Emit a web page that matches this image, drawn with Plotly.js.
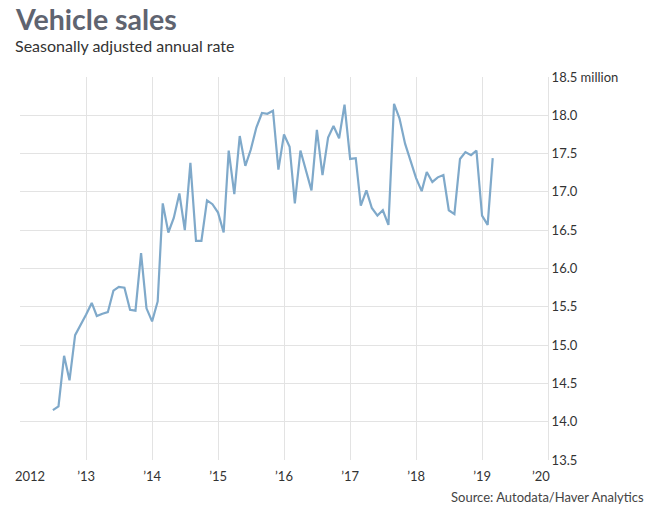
<!DOCTYPE html>
<html>
<head>
<meta charset="utf-8">
<script src="https://cdn.plot.ly/plotly-3.0.1.min.js"></script>
<style>
  html, body { margin: 0; padding: 0; background: #fff; }
  #chart { width: 656px; height: 517px; }
</style>
</head>
<body>
<div id="chart"></div>
<script>
// monthly SAAR, millions (Jul 2012 .. Mar 2019)
const startMonth = [2012, 7]
const sales2012 = [14.15, 14.20, 14.86, 14.54, 15.13, 15.26]
const sales2013 = [15.40, 15.55, 15.38, 15.41, 15.43, 15.71, 15.76, 15.75, 15.46, 15.45, 16.20, 15.48]
const sales2014 = [15.31, 15.57, 16.85, 16.47, 16.66, 16.98, 16.50, 17.38, 16.36, 16.36, 16.89, 16.84]
const sales2015 = [16.73, 16.47, 17.54, 16.97, 17.73, 17.34, 17.55, 17.84, 18.03, 18.02, 18.06, 17.29]
const sales2016 = [17.75, 17.59, 16.85, 17.54, 17.29, 17.02, 17.81, 17.22, 17.71, 17.86, 17.70, 18.14]
const sales2017 = [17.43, 17.44, 16.82, 17.02, 16.79, 16.69, 16.76, 16.57, 18.15, 17.96, 17.63, 17.40]
const sales2018 = [17.18, 17.01, 17.26, 17.13, 17.19, 17.22, 16.76, 16.71, 17.43, 17.52, 17.48, 17.54]
const sales2019 = [16.69, 16.57, 17.44]

// first and last year labels are drawn as annotations so they sit inside the plot edges
const xTickVals = ['2012-01-01', '2013-01-01', '2014-01-01', '2015-01-01', '2016-01-01', '2017-01-01', '2018-01-01', '2019-01-01', '2020-01-01']
const xTickText = ['', '’13', '’14', '’15', '’16', '’17', '’18', '’19', '']
const yTickVals = [13.5, 14, 14.5, 15, 15.5, 16, 16.5, 17, 17.5, 18, 18.5]
const yTickText = ['13.5', '14.0', '14.5', '15.0', '15.5', '16.0', '16.5', '17.0', '17.5', '18.0', '18.5 million']

const sales = [].concat(sales2012, sales2013, sales2014, sales2015, sales2016, sales2017, sales2018, sales2019)

const months = sales.map((_, i) => {
  const m = startMonth[1] - 1 + i
  const y = startMonth[0] + Math.floor(m / 12)
  return `${y}-${String((m % 12) + 1).padStart(2, '0')}-01`
})

const grid = '#e3e3e3'
const ink = '#333'

const edgeLabel = (text, x, anchor, shift) => ({
  text,
  xref: 'x', yref: 'paper',
  x, y: -0.042,
  xanchor: anchor, yanchor: 'middle',
  xshift: shift,
  showarrow: false,
  font: { size: 13, color: ink },
})

Plotly.newPlot(
  'chart',
  [
    {
      x: months,
      y: sales,
      type: 'scatter',
      mode: 'lines',
      line: { color: '#7fa9ca', width: 2.2 },
      hoverinfo: 'x+y',
    },
  ],
  {
    width: 656,
    height: 517,
    margin: { l: 20, r: 108, t: 77, b: 57 },
    paper_bgcolor: '#fff',
    plot_bgcolor: '#fff',
    font: { family: 'Lato, "Open Sans", sans-serif', color: ink, size: 13 },
    showlegend: false,
    xaxis: {
      type: 'date',
      range: ['2012-01-01', '2020-01-01'],
      tickvals: xTickVals,
      ticktext: xTickText,
      showgrid: true,
      gridcolor: grid,
      gridwidth: 1,
      zeroline: false,
      showline: false,
      ticks: '',
      ticklabelstandoff: 7,
      tickfont: { size: 13, color: ink },
      fixedrange: true,
    },
    yaxis: {
      side: 'right',
      range: [13.5, 18.5],
      tickvals: yTickVals,
      ticktext: yTickText,
      showgrid: true,
      gridcolor: grid,
      gridwidth: 1,
      zeroline: false,
      showline: true,
      linecolor: grid,
      linewidth: 1,
      ticks: '',
      tickfont: { size: 13, color: ink },
      fixedrange: true,
    },
    annotations: [
      {
        text: '<b>Vehicle sales</b>',
        xref: 'paper', yref: 'paper',
        x: -0.013, y: 1.152,
        xanchor: 'left', yanchor: 'middle',
        showarrow: false,
        font: { size: 28.5, color: '#5f6470' },
      },
      {
        text: 'Seasonally adjusted annual rate',
        xref: 'paper', yref: 'paper',
        x: -0.013, y: 1.081,
        xanchor: 'left', yanchor: 'middle',
        showarrow: false,
        font: { size: 16, color: ink },
      },
      edgeLabel('2012', '2012-01-01', 'left', -7),
      edgeLabel('’20', '2020-01-01', 'right', 4),
      {
        text: 'Source: Autodata/Haver Analytics',
        xref: 'paper', yref: 'paper',
        x: 1.185, y: -0.097,
        xanchor: 'right', yanchor: 'middle',
        showarrow: false,
        font: { size: 13, color: '#444' },
      },
    ],
  },
  { displayModeBar: false, staticPlot: true },
)
</script>
</body>
</html>
